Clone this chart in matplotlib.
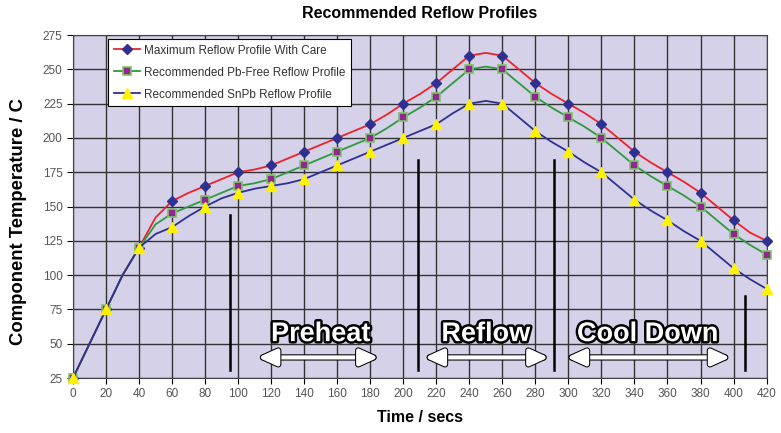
import numpy as np
import matplotlib
matplotlib.use("Agg")
import matplotlib.pyplot as plt
import matplotlib.patheffects as pe

plt.rcParams['font.family'] = ['Liberation Sans', 'DejaVu Sans']

# time axis, 10 s steps (markers every 20 s)
t = np.arange(0, 430, 10)

max_care = [25, 50, 75, 100, 120, 142, 154, 160, 165, 170, 175, 177, 180, 185, 190,
            195, 200, 205, 210, 217, 225, 232, 240, 250, 260, 262, 260, 250, 240, 232,
            225, 218, 210, 200, 190, 182, 175, 168, 160, 150, 140, 131, 125]
pb_free = [25, 50, 75, 100, 120, 137, 145, 150, 155, 160, 165, 167, 170, 175, 180,
           185, 190, 195, 200, 207, 215, 222, 230, 240, 250, 252, 250, 240, 230, 222,
           215, 208, 200, 190, 180, 172, 165, 158, 150, 140, 130, 122, 115]
snpb = [25, 50, 75, 100, 120, 130, 135, 143, 150, 156, 160, 163, 165, 167, 170,
        175, 180, 185, 190, 195, 200, 205, 210, 218, 225, 227, 225, 215, 205, 197,
        190, 182, 175, 165, 155, 147, 140, 132, 125, 115, 105, 97, 90]

labels = ["Maximum Reflow Profile With Care",
          "Recommended Pb-Free Reflow Profile",
          "Recommended SnPb Reflow Profile"]

# zone dividers: x, top temperature
dividers = [(95, 144), (209, 184), (291, 184), (407, 85)]
zones = [("Preheat", 150, 112, 185), ("Reflow", 250, 213, 288), ("Cool Down", 348, 299, 398)]

fig = plt.figure(figsize=(7.81, 4.33), dpi=100)
ax = fig.add_axes([0.0935, 0.127, 0.888, 0.792])
ax.set_facecolor('#d5d1e8')

ax.plot(t, max_care, color='#ee2229', lw=1.3, marker='D', ms=5.5, mfc='#2e3192',
        mec='#2e3192', markevery=2, label=labels[0], clip_on=False, zorder=4)
ax.plot(t, pb_free, color='#2e9a3e', lw=1.3, marker='s', ms=6, mfc='#92278f',
        mec='#7fc36b', mew=1.2, markevery=2, label=labels[1], clip_on=False, zorder=4)
ax.plot(t, snpb, color='#2e3192', lw=1.3, marker='^', ms=6.5, mfc='#fff200',
        mec='#fff200', markevery=2, label=labels[2], clip_on=False, zorder=4)

for x, top in dividers:
    ax.plot([x, x], [31, top], color='black', lw=1.8, zorder=3)

stroke = [pe.withStroke(linewidth=3.5, foreground='black')]
for name, cx, x0, x1 in zones:
    ax.text(cx, 57, name, fontsize=19.5, fontweight='bold', color='white',
            ha='center', va='center', path_effects=stroke, zorder=5)
    ax.annotate('', xy=(x1, 40), xytext=(x0, 40),
                arrowprops=dict(arrowstyle='<|-|>,head_length=1.1,head_width=0.5',
                                color='white', lw=3, shrinkA=0, shrinkB=0,
                                path_effects=[pe.withStroke(linewidth=4.5, foreground='black')]),
                zorder=5)

ax.set_xlim(0, 420)
ax.set_ylim(25, 275)
ax.set_xticks(np.arange(0, 421, 20))
ax.set_yticks(np.arange(25, 276, 25))
ax.grid(True, color='#333333', lw=1)
ax.set_axisbelow(True)
ax.tick_params(labelsize=8.5, colors='#555555', direction='out', length=4)
ax.tick_params(color='black')
for s in ax.spines.values():
    s.set_color('#444444')

ax.set_xlabel("Time / secs", fontsize=11.5, fontweight='bold', labelpad=7)
ax.set_ylabel("Component Temperature / C", fontsize=13.3, fontweight='bold')
ax.yaxis.set_label_coords(-0.066, 0.455)
ax.set_title("Recommended Reflow Profiles", fontsize=11.5, fontweight='bold', pad=12)

leg = ax.legend(loc='upper left', bbox_to_anchor=(0.046, 1.0), fontsize=8.5,
                frameon=True, fancybox=False, edgecolor='black', framealpha=1,
                handlelength=2.2, handletextpad=0.3, borderpad=0.5, labelspacing=0.85,
                borderaxespad=0.3)
leg.get_frame().set_linewidth(0.8)
for txt in leg.get_texts():
    txt.set_color('#333333')

fig.savefig('out.png', dpi=100)
